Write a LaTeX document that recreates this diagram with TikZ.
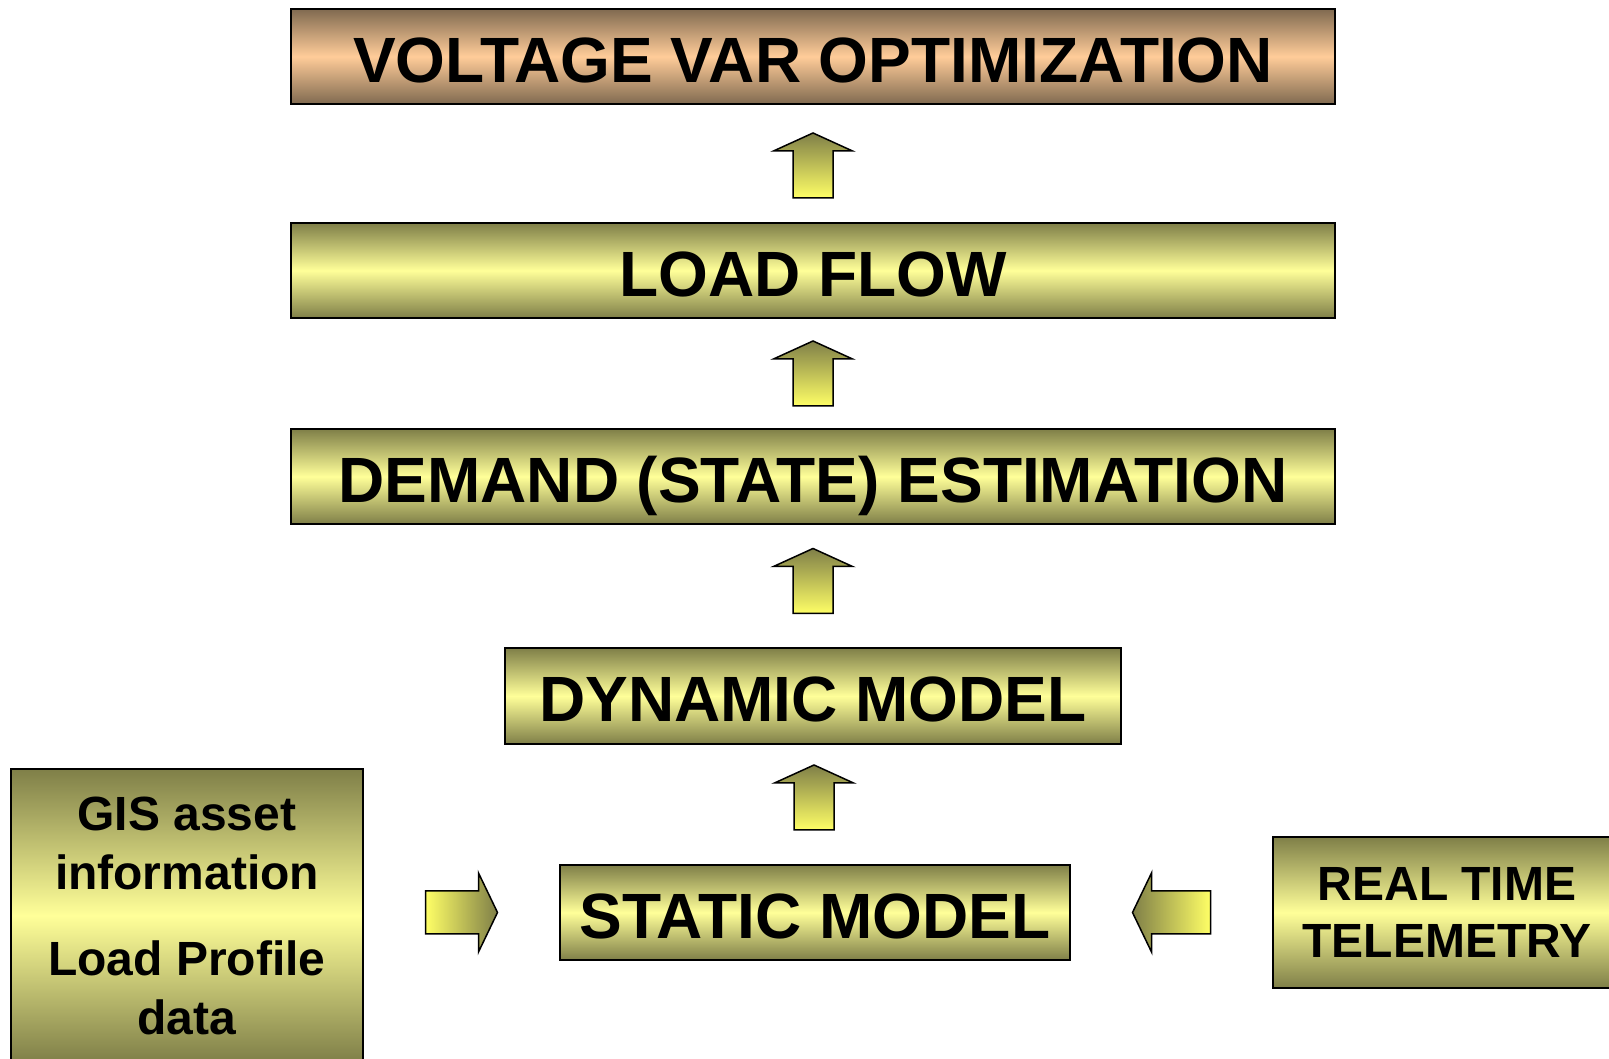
\documentclass[tikz,border=0pt]{standalone}
\usepackage{fontspec}
\setmainfont{Liberation Sans}
\usetikzlibrary{calc}
\definecolor{Ol}{HTML}{7F7F48}
\definecolor{Yl}{HTML}{FFFF99}
\definecolor{Br}{HTML}{806A50}
\definecolor{Pc}{HTML}{FFCC99}
\definecolor{Ay}{HTML}{FFFF66}
\tikzset{
  stage/.style={rectangle, draw=black, line width=2pt, inner sep=0pt,
    top color=Ol, bottom color=Ol, middle color=Yl, text height=52pt, text depth=0pt,
    font=\fontsize{64}{70}\selectfont\bfseries, minimum height=95pt},
  side/.style={rectangle, draw=black, line width=2pt, inner sep=0pt,
    top color=Ol, bottom color=Ol, middle color=Yl,
    align=center, font=\fontsize{48}{59}\selectfont\bfseries},
  blk/.style={draw=black, line width=1.5pt, line join=miter},
}
% block arrow pointing up, halfway between two stages (#3 = nudge)
\newcommand{\uparr}[3]{%
  \path ($(#1.north)!0.5!(#2.south)$) coordinate (m);
  \draw[blk, top color=Ol, bottom color=Ay] ([shift={(-20,-32.5+#3)}]m)
    -- ++(0,47) -- ++(-19.5,0) -- ++(39.5,18) -- ++(39.5,-18)
    -- ++(-19.5,0) -- ++(0,-47) -- cycle;}

\begin{document}
\begin{tikzpicture}[x=1pt, y=1pt]
  \useasboundingbox[fill=white] (0,0) rectangle (1609,1059);
  \node[stage, minimum width=1044pt, top color=Br, bottom color=Br, middle color=Pc]
    (vvo) at (813,1002.5) {VOLTAGE VAR OPTIMIZATION};
  \node[stage, minimum width=1044pt] (lf) at (813,788.5) {LOAD FLOW};
  \node[stage, minimum width=1044pt] (de) at (813,582.5) {DEMAND (STATE) ESTIMATION};
  \node[stage, minimum width=616pt, minimum height=96pt] (dyn) at (813,363) {DYNAMIC MODEL};
  \node[stage, minimum width=510pt] (stat) at (815,146.5) {STATIC MODEL};
  \node[side, minimum width=352pt, minimum height=293pt] (gis) at (187,143.5)
    {GIS asset\\information\\[27pt]Load Profile\\data};
  \node[side, minimum width=348pt, minimum height=151pt,
    font=\fontsize{48}{57}\selectfont\bfseries] (rtt) at (1447,146.5) {REAL TIME\\TELEMETRY};
  \foreach \a/\b/\d in {lf/vvo/-2, de/lf/0, dyn/de/5, stat/dyn/7} {\uparr{\a}{\b}{\d}}
  % side inputs into the static model
  \path ($(gis.east |- stat.west)!0.5!(stat.west)$) coordinate (ri);
  \draw[blk, left color=Ay, right color=Ol] ([shift={(-36,-21.5)}]ri)
    -- ++(0,43) -- ++(53,0) -- ++(0,18) -- ++(19,-39.5) -- ++(-19,-39.5)
    -- ++(0,18) -- cycle;
  \path ($(stat.east)!0.5!(rtt.west |- stat.east)$) coordinate (le);
  \draw[blk, left color=Ol, right color=Ay] ([shift={(39,-21.5)}]le)
    -- ++(0,43) -- ++(-59,0) -- ++(0,18) -- ++(-19,-39.5) -- ++(19,-39.5)
    -- ++(0,18) -- cycle;
\end{tikzpicture}
\end{document}
